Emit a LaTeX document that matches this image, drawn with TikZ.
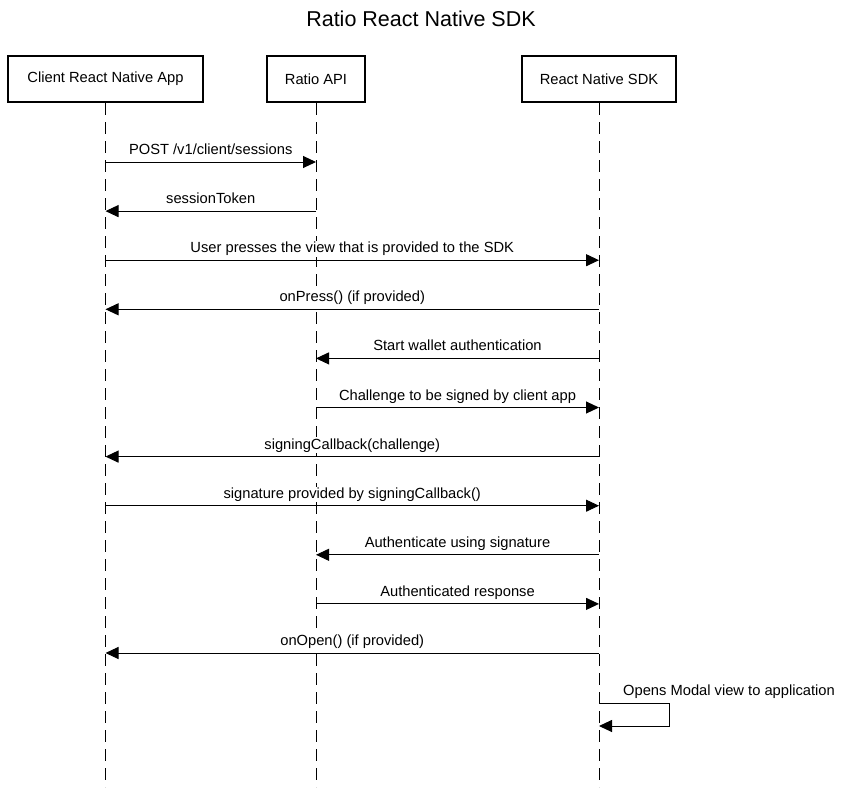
\documentclass[tikz,border=0pt]{standalone}
\usepackage{fontspec}
\setmainfont{Liberation Sans}
\usetikzlibrary{arrows.meta,calc}
\tikzset{
    actor/.style = {
        draw, rectangle, align=center,
        line width=2pt,
        inner sep=0,
        minimum height={46pt},
        font=\fontsize{14.7}{17}\selectfont
    },
    life/.style = {
        line width=1pt, dash pattern=on 12pt off 7pt
    },
    msg/.style = {
        line width=1pt, -{Triangle[length=13pt,width=12pt]}
    },
    lbl/.style = {
        anchor=base, fill=white, inner sep=1pt, yshift=7.5pt,
        font=\fontsize{14.7}{17}\selectfont
    }
}
\newcommand{\row}[2]{\coordinate (#1) at (0,#2);}

\begin{document}
\begin{tikzpicture}[x=1pt,y=-1pt]
\useasboundingbox (0,0) rectangle (842,787);

% 1. title and participants
\node[anchor=base,inner sep=0,font=\fontsize{21.5}{25}\selectfont] (title) at (421,26) {Ratio React Native SDK};
\node[actor,minimum width=195pt] (Client) at (105.5,79) {Client React Native App};
\node[actor,minimum width=98pt]  (API)    at (316,79)   {Ratio API};
\node[actor,minimum width=154pt] (SDK)    at (599,79)   {React Native SDK};

% 2. message rows
\row{m1}{162}   \row{m2}{211.1} \row{m3}{260.2} \row{m4}{309.3}
\row{m5}{358.4} \row{m6}{407.5} \row{m7}{456.6} \row{m8}{505.7}
\row{m9}{554.8} \row{m10}{603.9} \row{m11}{653}
\row{s1}{703}   \row{s2}{726}   \row{bot}{787}

% 3. lifelines
\draw[life] (Client.south) -- (Client |- bot);
\draw[life] (API.south)    -- (API |- bot);
\draw[life] (SDK.south)    -- (SDK |- bot);

% 4. messages and labels
\draw[msg] (Client |- m1)  -- (API |- m1)    node[lbl,midway] {POST /v1/client/sessions};
\draw[msg] (API |- m2)     -- (Client |- m2) node[lbl,midway] {sessionToken};
\draw[msg] (Client |- m3)  -- (SDK |- m3)    node[lbl,midway] {User presses the view that is provided to the SDK};
\draw[msg] (SDK |- m4)     -- (Client |- m4) node[lbl,midway] {onPress() (if provided)};
\draw[msg] (SDK |- m5)     -- (API |- m5)    node[lbl,midway] {Start wallet authentication};
\draw[msg] (API |- m6)     -- (SDK |- m6)    node[lbl,midway] {Challenge to be signed by client app};
\draw[msg] (SDK |- m7)     -- (Client |- m7) node[lbl,midway] {signingCallback(challenge)};
\draw[msg] (Client |- m8)  -- (SDK |- m8)    node[lbl,midway] {signature provided by signingCallback()};
\draw[msg] (SDK |- m9)     -- (API |- m9)    node[lbl,midway] {Authenticate using signature};
\draw[msg] (API |- m10)    -- (SDK |- m10)   node[lbl,midway] {Authenticated response};
\draw[msg] (SDK |- m11)    -- (Client |- m11) node[lbl,midway] {onOpen() (if provided)};

% 5. self message
\draw[msg] (SDK |- s1) -- ++(70,0) |- (SDK |- s2);
\node[lbl,anchor=base west,xshift=23pt] (open) at (SDK |- s1) {Opens Modal view to application};

\end{tikzpicture}
\end{document}
